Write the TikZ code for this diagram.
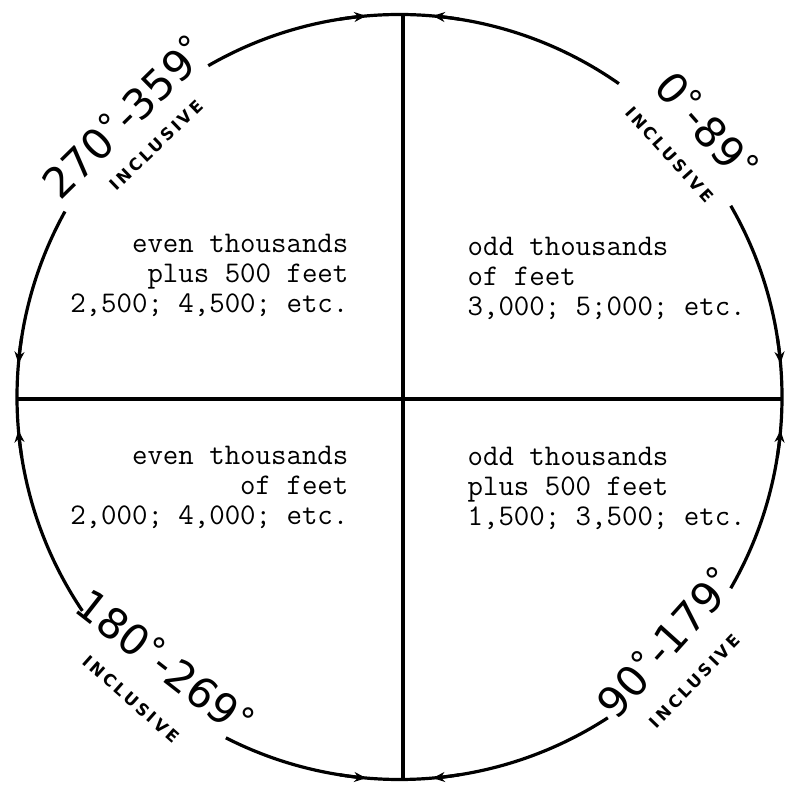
\documentclass[tikz,border=0pt]{standalone}
\usepackage{fontspec}
\newfontfamily\labfont{DejaVu Sans}
\newfontfamily\incfont[LetterSpace=18]{DejaVu Sans}
\newcommand\dgmark{\raisebox{4pt}{\fontsize{17}{17}\selectfont °}}
\usetikzlibrary{arrows.meta}
\begin{document}
\begin{tikzpicture}[x=0.5pt,y=0.5pt,line width=1.6pt,
  lab/.style={inner sep=0pt,font=\fontsize{21}{21}\labfont},
  inc/.style={inner sep=0pt,font=\fontsize{8.3}{9}\incfont\bfseries},
  body/.style={inner sep=0pt,font=\fontsize{15}{15}\ttfamily},
  tick/.style={-{Stealth[length=6pt,width=5pt]}}]
\useasboundingbox (-399.5,-388) rectangle (385.5,397);
\def\R{382.5}
% circle arcs with gaps for the labels
\draw (55:\R) arc[start angle=55,end angle=120,radius=\R];
\draw (151:\R) arc[start angle=151,end angle=214,radius=\R];
\draw (243:\R) arc[start angle=243,end angle=303,radius=\R];
\draw (330:\R) arc[start angle=330,end angle=390,radius=\R];
% small arrow marks near the line ends
\foreach \a in {0,90,180,270}{
  \draw[tick] (\a+9:\R) arc[start angle=\a+9,end angle=\a+5,radius=\R];
  \draw[tick] (\a-9:\R) arc[start angle=\a-9,end angle=\a-5,radius=\R];
}
% cross lines
\coordinate (top) at (3.5,382.5);
\coordinate (bot) at (3.5,-382.5);
\coordinate (lft) at (-382.5,-2);
\coordinate (rgt) at (382.5,-2);
\draw (top) -- (bot);
\draw (lft) -- (rgt);
% quadrant labels
\node[lab,rotate=44.5] (tl) at (134.5:393) {270\dgmark-359\dgmark};
\node[inc,rotate=44] (tli) at (134:350) {INCLUSIVE};
\node[lab,rotate=-48.6] (tr) at (41.4:410) {0\dgmark-89\dgmark};
\node[inc,rotate=-48] (tri) at (41.9:363) {INCLUSIVE};
\node[lab,rotate=-38] (bl) at (228.6:354) {180\dgmark-269\dgmark};
\node[inc,rotate=-41.6] (bli) at (228.4:404) {INCLUSIVE};
\node[lab,rotate=48] (br) at (-42.7:362) {90\dgmark-179\dgmark};
\node[inc,rotate=46] (bri) at (-43.9:410) {INCLUSIVE};
% quadrant texts (anchor = baseline of last line)
\node[body,anchor=base east,align=right] (ul) at (-49.5,84) {even thousands\\plus 500 feet\\2,500; 4,500; etc.};
\node[body,anchor=base west,align=left] (ur) at (66.5,81) {odd thousands\\of feet\\3,000; 5;000; etc.};
\node[body,anchor=base east,align=right] (ll) at (-49.5,-128) {even thousands\\of feet\\2,000; 4,000; etc.};
\node[body,anchor=base west,align=left] (lr) at (66.5,-129) {odd thousands\\plus 500 feet\\1,500; 3,500; etc.};
\end{tikzpicture}
\end{document}
